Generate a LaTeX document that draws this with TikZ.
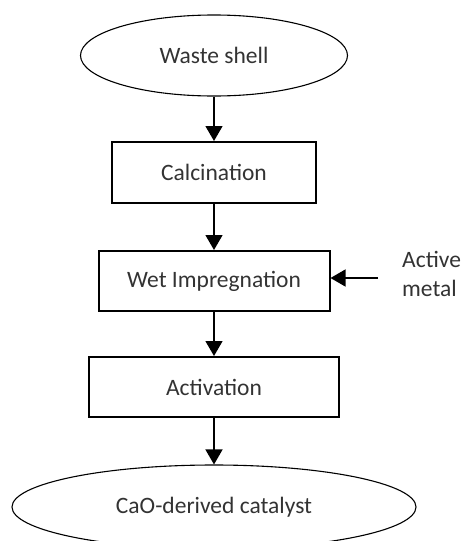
\documentclass[tikz,border=0pt]{standalone}
\usepackage{fontspec}
\setmainfont{Carlito}
\usetikzlibrary{shapes.geometric,arrows.meta}

\tikzset{
  stepbox/.style={draw,line width=2pt,minimum height=60pt,inner sep=0pt,text=black!80},
  endoval/.style={ellipse,draw,line width=1.1pt,inner sep=0pt,text=black!80},
  flow/.style={line width=1.4pt,-{Triangle[width=17pt,length=15pt]}}
}

\begin{document}
\begin{tikzpicture}[x=1pt,y=-1pt,font=\fontsize{23.5}{29}\selectfont]
\useasboundingbox (0,0) rectangle (461,541);
\clip (0,0) rectangle (461,541);

\node[endoval,minimum width=267pt,minimum height=81pt] (shell) at (214,55.5) {Waste shell};
\node[stepbox,minimum width=204pt,minimum height=61pt] (calc) at (214,172.5) {Calcination};
\node[stepbox,minimum width=231pt] (wet) at (214,281) {Wet Impregnation};
\node[stepbox,minimum width=250pt] (act) at (214,387) {Activation};
\node[endoval,minimum width=404pt,minimum height=84pt] (cat) at (214,507) {CaO-derived catalyst};

\node[anchor=west,align=left,inner ysep=0pt,inner xsep=0pt,text=black!80] (metal) at (402,274) {Active\\metal};
\coordinate (metalin) at (378,278);

\draw[flow] (shell.south) -- (calc.north);
\draw[flow] (calc.south) -- (wet.north);
\draw[flow] (wet.south) -- (act.north);
\draw[flow] (act.south) -- (cat.north);
\draw[flow] (metalin) -- (wet.east |- metalin);

\end{tikzpicture}
\end{document}
